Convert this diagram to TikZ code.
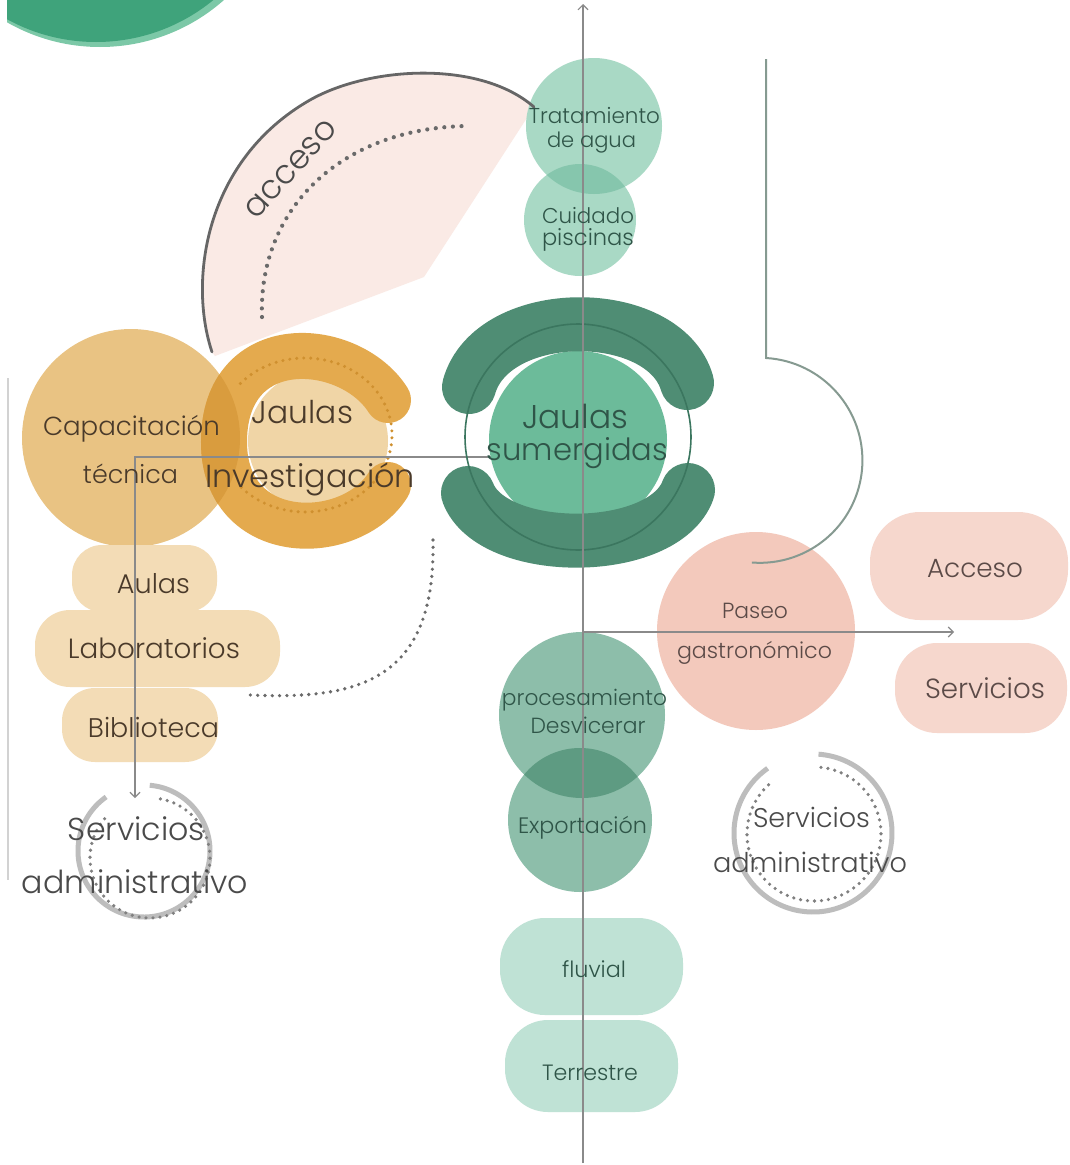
\documentclass[tikz,border=0pt]{standalone}
\usepackage{fontspec}
\setmainfont{Poppins}[UprightFont=* Light]
\usetikzlibrary{arrows.meta}
\definecolor{topgreen}{HTML}{3FA37B}
\definecolor{rimgreen}{HTML}{7CC8A7}
\definecolor{accpink}{HTML}{FAEAE5}
\definecolor{accline}{HTML}{666666}
\definecolor{dotgrey}{HTML}{6A6A6A}
\definecolor{trat}{HTML}{A9D9C5}
\definecolor{tratdark}{HTML}{86C6AD}
\definecolor{capc}{HTML}{E9C383}
\definecolor{cdisc}{HTML}{F0D5A6}
\definecolor{cband}{HTML}{E4AA4E}
\definecolor{cbanddark}{HTML}{D99C3E}
\definecolor{cdots}{HTML}{CF902F}
\definecolor{tanblob}{HTML}{F3DCB6}
\definecolor{pinkc}{HTML}{F3C9BC}
\definecolor{pinkblob}{HTML}{F6D7CD}
\definecolor{jinner}{HTML}{6CBB9A}
\definecolor{jband}{HTML}{4F8D74}
\definecolor{joutline}{HTML}{3B765F}
\definecolor{proc}{HTML}{8DBEAA}
\definecolor{procdark}{HTML}{5E9B82}
\definecolor{mint}{HTML}{BFE2D5}
\definecolor{axisgrey}{HTML}{8A8A8A}
\definecolor{pipe}{HTML}{869A91}
\definecolor{ringgrey}{HTML}{BDBDBD}
\definecolor{otxt}{HTML}{4A3A2A}
\definecolor{gtxt}{HTML}{2F5548}
\definecolor{ptxt}{HTML}{5B4A47}
\definecolor{stxt}{HTML}{4A4A4A}
\newcommand{\fw}[2]{\resizebox{#1pt}{!}{#2}}
\tikzset{
  lbl/.style={inner sep=0pt, outer sep=0pt, anchor=base, font=\fontsize{20}{24}\selectfont},
  disc/.style={circle, inner sep=0pt, outer sep=0pt, draw=none},
  blob/.style={rectangle, inner sep=0pt, outer sep=0pt, draw=none},
  dotline/.style={dash pattern=on 0pt off 8.6pt, line cap=round, line width=4.2pt, dotgrey},
  ringdots/.style={dash pattern=on 0pt off 7pt, line cap=round, line width=3.6pt, dotgrey!85},
  axisline/.style={axisgrey, line width=1.1pt},
  barb/.style={-{Straight Barb[length=5pt,width=10pt]}},
}
\begin{document}
\begin{tikzpicture}[x=1pt,y=-1pt]
\useasboundingbox (0,0) rectangle (1069,1165);
\fill[white] (0,0) rectangle (1069,1165);

% top-left green disc
\begin{scope}
\clip (7,0) rectangle (400,100);
\fill[rimgreen] (100,-140) circle (187);
\fill[topgreen] (96,-143) circle (185);
\end{scope}

% acceso sector
\fill[accpink] (212,352) .. controls (188,280) and (205,160) .. (310,100) .. controls (370,66) and (480,60) .. (534,107) -- (424,277) -- (215,356) -- cycle;

% water treatment circles
\node[disc, fill=trat, minimum size=136pt] (trat) at (594,126) {};
\node[disc, fill=trat, minimum size=112pt] (cuid) at (580,220) {};
\begin{scope}
\clip (594,126) circle (68);
\fill[tratdark] (580,220) circle (56);
\end{scope}

\draw[accline, line width=2.8pt, line cap=round] (212,352) .. controls (188,280) and (205,160) .. (310,100) .. controls (370,66) and (480,60) .. (534,107);
\draw[dotline] (262,317) .. controls (258,210) and (340,128) .. (467,126);

% orange group
\node[disc, fill=capc, minimum size=218pt] (capC) at (131,438) {};
\node[disc, fill=cdisc, minimum size=140pt] (cdiscN) at (318,441) {};
\draw[cband, line width=46pt, line cap=round] (388,400) .. controls (350,340) and (224,330) .. (224,442) .. controls (224,545) and (350,545) .. (388,485);
\begin{scope}
\clip (131,438) circle (109);
\draw[cbanddark, line width=46pt, line cap=round] (388,400) .. controls (350,340) and (224,330) .. (224,442) .. controls (224,545) and (350,545) .. (388,485);
\end{scope}
\draw[cdots, dash pattern=on 0pt off 7pt, line cap=round, line width=3.4pt] (240.35,383.48) arc[start angle=-138, end angle=138, x radius=87, y radius=77];

\node[blob, fill=tanblob, minimum width=145pt, minimum height=67pt, rounded corners=30pt] (aulasB) at (144.5,578.5) {};
\node[blob, fill=tanblob, minimum width=245pt, minimum height=77pt, rounded corners=35pt] (labB) at (157.5,648.5) {};
\node[blob, fill=tanblob, minimum width=156pt, minimum height=74pt, rounded corners=33pt] (bibB) at (140,725) {};

% left dotted arc
\draw[dotline, line width=3.6pt, dash pattern=on 0pt off 7.3pt] (433,540) .. controls (436,680) and (360,700) .. (250,695);

% left thin line
\coordinate (lv0) at (8,378);
\coordinate (lv1) at (8,880);
\draw[gray!35, line width=1.4pt] (lv0) -- (lv1);

% left L arrow
\coordinate (hL0) at (583,457);
\coordinate (hL1) at (135,457);
\coordinate (hL2) at (135,798);
\draw[axisline, barb] (hL0) -- (hL1) -- (hL2);

% left servicios ring
\draw[ringgrey, line width=5pt] (144,851) ++(-85:66) arc[start angle=-85, end angle=235, radius=66];
\draw[ringdots] (150,858) ++(-80:60) arc[start angle=-80, end angle=225, radius=60];

% green submerged cages
\node[disc, fill=jinner, minimum size=178pt] (jin) at (578,440) {};
\draw[jband, line width=54pt, line cap=round] (469,387) .. controls (492,304) and (664,304) .. (687,383);
\draw[jband, line width=54pt, line cap=round] (468,493) .. controls (492,557) and (664,557) .. (688,490);
\node[disc, draw=joutline, line width=1.6pt, minimum size=226pt] (jout) at (578,437) {};

% pink group
\node[disc, fill=pinkc, minimum size=198pt] (paseo) at (756,631) {};
\node[blob, fill=pinkblob, minimum width=198pt, minimum height=108pt, rounded corners=50pt] (accB) at (969,566) {};
\node[blob, fill=pinkblob, minimum width=172pt, minimum height=90pt, rounded corners=42pt] (servB) at (981,688) {};

% right pipe line
\coordinate (pp0) at (766,59);
\coordinate (pp1) at (766,358);
\draw[pipe, line width=2pt] (pp0) -- (pp1) arc[start angle=-86.6, end angle=94.5, radius=102.5];

% right servicios ring
\draw[ringgrey, line width=5pt] (813,833) ++(-86:79) arc[start angle=-86, end angle=235, radius=79];
\draw[ringdots] (814,834) ++(-84:67) arc[start angle=-84, end angle=231, radius=67];

% processing circles
\node[disc, fill=proc, minimum size=166pt] (procN) at (582,715) {};
\node[disc, fill=proc, minimum size=144pt] (expN) at (580,820) {};
\begin{scope}
\clip (582,715) circle (83);
\fill[procdark] (580,820) circle (72);
\end{scope}

\node[blob, fill=mint, minimum width=183pt, minimum height=97pt, rounded corners=45pt] (fluB) at (591.5,966.5) {};
\node[blob, fill=mint, minimum width=173pt, minimum height=92pt, rounded corners=43pt] (terB) at (591.5,1066) {};

% right horizontal arrow
\coordinate (hR0) at (583,632);
\coordinate (hR1) at (954,632);
\draw[axisline, barb] (hR0) -- (hR1);

% main axis
\coordinate (axB) at (583,1163);
\coordinate (axT) at (583,4);
\draw[axisline, barb] (axB) -- (axT);

% labels
\node[lbl, anchor=center, rotate=48, text=dotgrey!70!black] (tAcc) at (291,169) {\fw{122}{acceso}};
\node[lbl, text=gtxt] (t1) at (594.5,123) {\fw{131}{Tratamiento}};
\node[lbl, text=gtxt] (t2) at (591.5,147) {\fw{89}{de agua}};
\node[lbl, text=gtxt] (t3) at (588,223) {\fw{92}{Cuidado}};
\node[lbl, text=gtxt] (t4) at (588,245) {\fw{92}{piscinas}};
\node[lbl, text=otxt] (t5) at (131.5,435) {\fw{177}{Capacitación}};
\node[lbl, text=otxt] (t6) at (130.5,483) {\fw{95}{técnica}};
\node[lbl, text=otxt] (t7) at (302.5,423) {\fw{101}{Jaulas}};
\node[lbl, text=otxt] (t8) at (310,487) {\fw{210}{Investigación}};
\node[lbl, text=otxt] (t9) at (153.5,593) {\fw{73}{Aulas}};
\node[lbl, text=otxt] (t10) at (154,658) {\fw{172}{Laboratorios}};
\node[lbl, text=otxt] (t11) at (153.5,737) {\fw{131}{Biblioteca}};
\node[lbl, text=stxt] (t12) at (136.5,840) {\fw{137}{Servicios}};
\node[lbl, text=stxt] (t13) at (135,893) {\fw{226}{administrativo}};
\node[lbl, text=gtxt] (t14) at (575,428) {\fw{106}{Jaulas}};
\node[lbl, text=gtxt] (t15) at (577.5,460) {\fw{181}{sumergidas}};
\node[lbl, text=ptxt] (t16) at (755,618) {\fw{66}{Paseo}};
\node[lbl, text=ptxt] (t17) at (754.5,658) {\fw{155}{gastronómico}};
\node[lbl, text=ptxt] (t18) at (975,577) {\fw{96}{Acceso}};
\node[lbl, text=ptxt] (t19) at (985,698) {\fw{120}{Servicios}};
\node[lbl, text=gtxt] (t20) at (584.5,705) {\fw{165}{procesamiento}};
\node[lbl, text=gtxt] (t21) at (588,733) {\fw{115}{Desvicerar}};
\node[lbl, text=gtxt] (t22) at (582.5,833) {\fw{129}{Exportación}};
\node[lbl, text=stxt] (t23) at (811.5,827) {\fw{117}{Servicios}};
\node[lbl, text=stxt] (t24) at (810,872) {\fw{194}{administrativo}};
\node[lbl, text=gtxt] (t25) at (594,977) {\fw{64}{fluvial}};
\node[lbl, text=gtxt] (t26) at (590,1080) {\fw{96}{Terrestre}};
\end{tikzpicture}
\end{document}
